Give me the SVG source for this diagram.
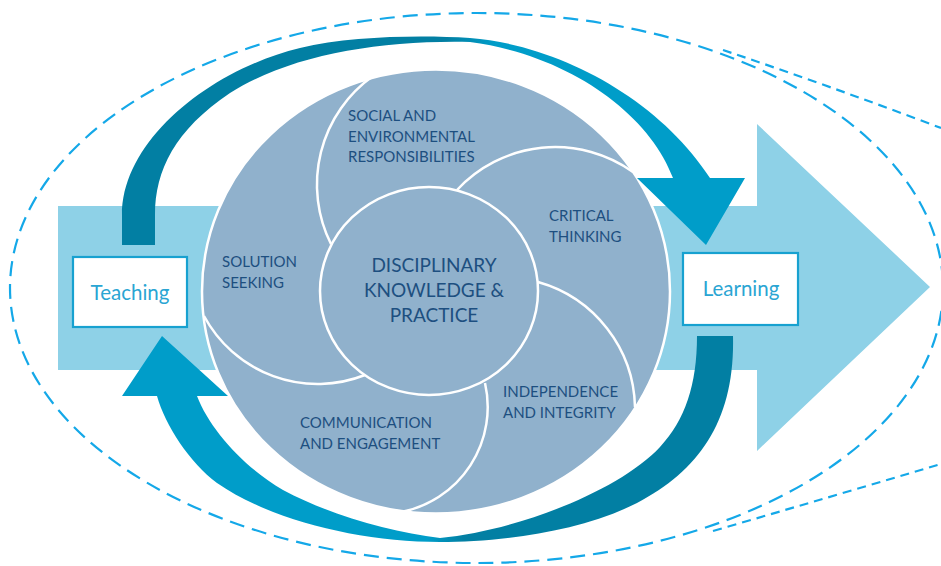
<svg xmlns="http://www.w3.org/2000/svg" width="941" height="566" viewBox="0 0 941 566">
<defs>
<style>
.dash{fill:none;stroke:#14a8e8;stroke-width:2.2;stroke-dasharray:15 8}
.dash2{fill:none;stroke:#14a8e8;stroke-width:2.2;stroke-dasharray:9 6}
.petal{fill:none;stroke:#ffffff;stroke-width:2.5}
.lbl{font-family:Lato,"Open Sans",sans-serif;font-size:15px;fill:#1d4f80}
.core{font-family:Lato,"Open Sans",sans-serif;font-size:19px;fill:#1d4f80;text-anchor:middle}
.box{fill:#ffffff;stroke:#17a1d0;stroke-width:2.2}
.boxt{font-family:Lato,"Open Sans",sans-serif;font-size:20.5px;fill:#2aa5d3;text-anchor:middle}
</style>
<linearGradient id="gTop" gradientUnits="userSpaceOnUse" x1="122" y1="0" x2="745" y2="0">
<stop offset="0" stop-color="#027fa3"/>
<stop offset="0.52" stop-color="#027fa3"/>
<stop offset="0.6" stop-color="#009dc9"/>
<stop offset="1" stop-color="#009dc9"/>
</linearGradient>
<linearGradient id="gBot" gradientUnits="userSpaceOnUse" x1="122" y1="0" x2="733" y2="0">
<stop offset="0" stop-color="#009dc9"/>
<stop offset="0.5" stop-color="#009dc9"/>
<stop offset="0.56" stop-color="#027fa3"/>
<stop offset="1" stop-color="#027fa3"/>
</linearGradient>
</defs>

<g id="outline">
<ellipse class="dash" cx="476.5" cy="288" rx="466.5" ry="275"/>
<path class="dash2" d="M723,50 Q830,86 941,128"/>
<path class="dash2" d="M713,531 Q830,497 941,464"/>
</g>

<g id="flow">
<polygon fill="#8ed1e7" points="58,206 757,206 757,124 930,287 757,451 757,370 58,370"/>
</g>

<g id="teaching">
<rect class="box" x="73" y="257" width="114" height="70"/>
<text class="boxt" x="130" y="300">Teaching</text>
</g>

<g id="learning">
<rect class="box" x="683" y="253" width="115" height="72"/>
<text class="boxt" x="741" y="296">Learning</text>
</g>

<g id="wheel">
<ellipse cx="436" cy="291.5" rx="234" ry="222" fill="#90b1cc" stroke="#ffffff" stroke-width="2.5"/>
<path class="petal" d="M373,76 A133,133 0 0 0 331,244"/>
<path class="petal" d="M457,190 A134,134 0 0 1 633,172"/>
<path class="petal" d="M538,282 A133,133 0 0 1 635,407"/>
<path class="petal" d="M485,383 A107,107 0 0 1 401,512"/>
<path class="petal" d="M204,316 A129,129 0 0 0 365,375"/>
<ellipse cx="429" cy="291" rx="109" ry="104" fill="#90b1cc" stroke="#ffffff" stroke-width="2.5"/>
</g>

<g id="social">
<text class="lbl" x="348" y="121">SOCIAL AND</text>
<text class="lbl" x="348" y="142">ENVIRONMENTAL</text>
<text class="lbl" x="348" y="162">RESPONSIBILITIES</text>
</g>
<g id="critical">
<text class="lbl" x="549" y="221">CRITICAL</text>
<text class="lbl" x="549" y="242">THINKING</text>
</g>
<g id="independence">
<text class="lbl" x="503" y="397">INDEPENDENCE</text>
<text class="lbl" x="503" y="418">AND INTEGRITY</text>
</g>
<g id="communication">
<text class="lbl" x="300" y="428">COMMUNICATION</text>
<text class="lbl" x="300" y="449">AND ENGAGEMENT</text>
</g>
<g id="solution">
<text class="lbl" x="222" y="267">SOLUTION</text>
<text class="lbl" x="222" y="288">SEEKING</text>
</g>
<g id="core">
<text class="core" x="434" y="272">DISCIPLINARY</text>
<text class="core" x="434" y="297">KNOWLEDGE &amp;</text>
<text class="core" x="434" y="322">PRACTICE</text>
</g>

<g id="connectors">
<path fill="url(#gTop)" d="M122,245 L122,215 C122,140 210,70 300,48 C350,36 420,35 470,38 C560,45 660,100 710,178 L745,178 L706,245 L637,178 L673,178 C650,115 570,55 470,42 C380,40 290,55 230,93 C175,130 155,170 155,215 L155,245 Z"/>
<path fill="url(#gBot)" d="M697,336 L733,336 C735,420 700,470 637,503 C580,532 500,542 440,542 C360,542 270,520 217,483 C190,463 165,425 157,396 L122,396 L162,336 L228,396 L197,396 C210,430 245,468 283,490 C330,515 390,532 440,538 C520,530 620,490 660,447 C685,420 697,385 697,336 Z"/>
</g>
</svg>
